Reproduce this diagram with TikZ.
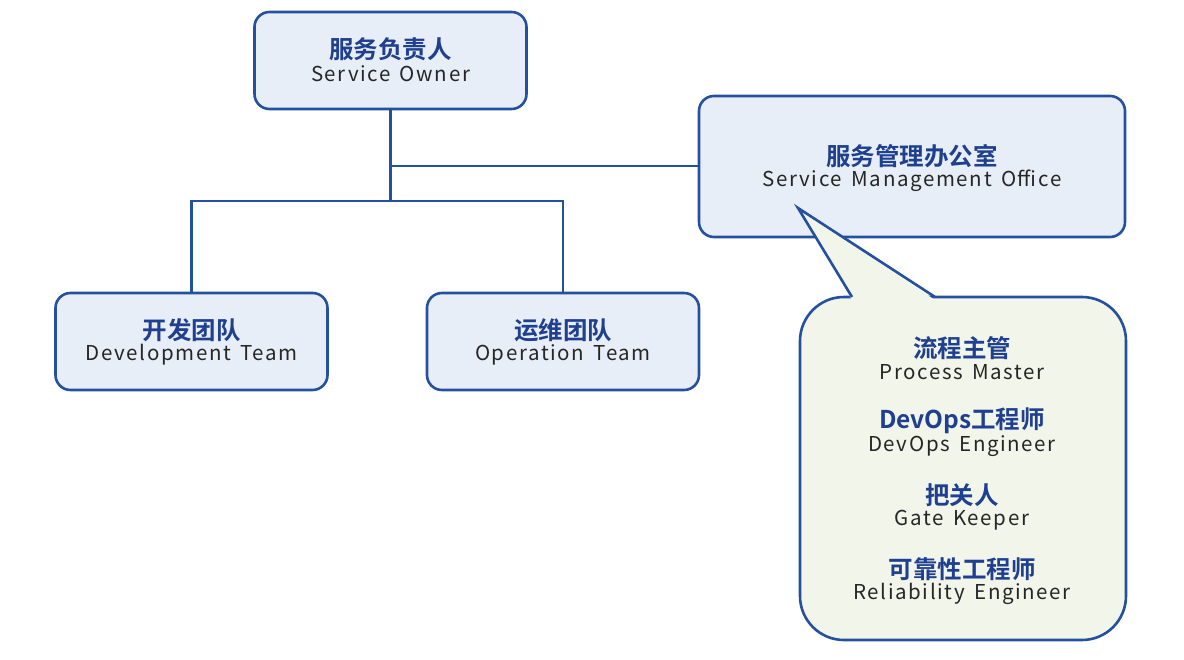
\documentclass[tikz,border=0pt]{standalone}
\usepackage{fontspec}
\usepackage{xcolor}
\usepackage{tikz}
\setmainfont{Noto Sans CJK SC}[LetterSpace=8,WordSpace=1.5]
\newfontfamily\cnbold{Noto Sans CJK SC Bold}

\definecolor{lineblue}{HTML}{2550A0}
\definecolor{boxfill}{HTML}{E8EEF7}
\definecolor{tipfill}{HTML}{F1F5EA}
\definecolor{cntext}{HTML}{1F3F90}
\definecolor{entext}{HTML}{262626}

\tikzset{
  rolebox/.style={draw=lineblue, line width=2.6pt, fill=boxfill, rounded corners=15pt},
  cn/.style={font=\cnbold\fontsize{24.5}{27}\selectfont, text=cntext, inner sep=0pt},
  en/.style={font=\fontsize{20.5}{23}\selectfont, text=entext, inner sep=0pt},
  link/.style={draw=lineblue, line width=2.6pt},
}

\begin{document}
\begin{tikzpicture}[x=1pt,y=-1pt]
        \useasboundingbox (0,0) rectangle (1184,660);
        % role boxes
        \node[rolebox, minimum width=272pt, minimum height=97pt] (owner) at (390.5,60.5) {};
        \node[rolebox, minimum width=426pt, minimum height=141pt] (smo) at (912,166.5) {};
        \node[rolebox, minimum width=272pt, minimum height=97pt] (dev) at (191.5,341.5) {};
        \node[rolebox, minimum width=272pt, minimum height=97pt] (ops) at (563,341.5) {};
        % connectors
        \coordinate (hub) at (390.5,166);
        \coordinate (split) at (390.5,201);
        \draw[link] (owner.south) -- (split);
        \draw[link] (hub) -- (smo.west |- hub);
        \draw[link] (dev.north) |- (split) -| (ops.north);
        % callout
        \node[draw=lineblue, line width=2.6pt, fill=tipfill, rounded corners=44pt,
              minimum width=326pt, minimum height=343pt] (team) at (963,468.5) {};
        \coordinate (tip) at (798,208);
        \coordinate (baseL) at (852,297);
        \coordinate (baseR) at (935,297);
        \fill[tipfill] (tip) -- (852,300) -- (935,300) -- cycle;
        \draw[link, line join=miter] (baseL) -- (tip) -- (baseR);
        % texts
        \node[cn] at (390.5,49) {服务负责人};
        \node[en] at (390.5,74) {Service Owner};
        \node[cn] at (912,156) {服务管理办公室};
        \node[en] at (912,181) {Service Management Office};
        \node[cn] at (191.5,330) {开发团队};
        \node[en] at (191.5,355) {Development Team};
        \node[cn] at (563,330) {运维团队};
        \node[en] at (563,355) {Operation Team};
        \node[cn] at (962,348) {流程主管};
        \node[en] at (962,372) {Process Master};
        \node[cn] at (962,421) {DevOps工程师};
        \node[en] at (962,446) {DevOps Engineer};
        \node[cn] at (962,495) {把关人};
        \node[en] at (962,520) {Gate Keeper};
        \node[cn] at (962,569) {可靠性工程师};
        \node[en] at (962,594) {Reliability Engineer};
\end{tikzpicture}
\end{document}
